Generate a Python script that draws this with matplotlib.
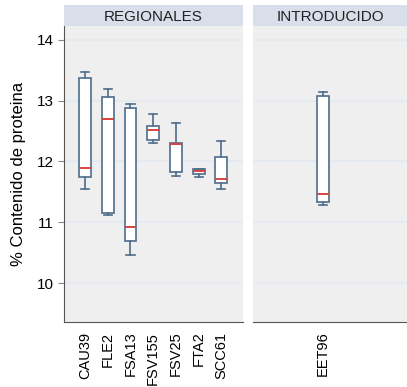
import matplotlib.pyplot as plt

plt.rcParams['font.family'] = ['Liberation Sans', 'DejaVu Sans']

# protein content per cultivar (%)
regional = ['CAU39', 'FLE2', 'FSA13', 'FSV155', 'FSV25', 'FTA2', 'SCC61']
reg_whislo = [11.54, 11.12, 10.47, 12.31, 11.76, 11.75, 11.55]
reg_q1 = [11.74, 11.16, 10.70, 12.36, 11.82, 11.80, 11.64]
reg_med = [11.90, 12.70, 10.92, 12.52, 12.28, 11.84, 11.72]
reg_q3 = [13.37, 13.06, 12.88, 12.59, 12.31, 11.87, 12.08]
reg_whishi = [13.48, 13.20, 12.95, 12.78, 12.63, 11.88, 12.33]

introduced = ['EET96']
int_whislo = [11.28]
int_q1 = [11.33]
int_med = [11.47]
int_q3 = [13.08]
int_whishi = [13.14]

edge = '#4f6d8c'
panel_bg = '#efefef'
strip_bg = '#d9dfea'
spine_c = '#555555'


def stats(labels, lo, q1, med, q3, hi):
    return [dict(label=l, whislo=a, q1=b, med=c, q3=d, whishi=e, fliers=[])
            for l, a, b, c, d, e in zip(labels, lo, q1, med, q3, hi)]


def draw(ax, st):
    ax.set_facecolor(panel_bg)
    ax.bxp(st, positions=range(1, len(st) + 1), widths=0.52, patch_artist=True,
           boxprops=dict(facecolor='white', edgecolor=edge, linewidth=1.2),
           whiskerprops=dict(color=edge, linewidth=1.2),
           capprops=dict(color=edge, linewidth=1.2),
           medianprops=dict(color='#d64541', linewidth=1.4),
           capwidths=0.36, zorder=3)
    ax.set_ylim(9.36, 14.23)
    ax.set_yticks([10, 11, 12, 13, 14])
    ax.grid(axis='y', color='#e4e9f1', linewidth=1.2, zorder=0)
    ax.set_axisbelow(True)
    for s in ['top', 'right', 'left']:
        ax.spines[s].set_visible(False)
    ax.spines['bottom'].set_color(spine_c)
    ax.tick_params(axis='x', length=0, pad=7, labelsize=10.5, labelrotation=90)


def strip(rect, text):
    sa = fig.add_axes(rect)
    sa.set_facecolor(strip_bg)
    sa.set_xticks([])
    sa.set_yticks([])
    for s in sa.spines.values():
        s.set_visible(False)
    sa.text(0.5, 0.45, text, ha='center', va='center', fontsize=11,
            color='#222222', transform=sa.transAxes)


fig = plt.figure(figsize=(4.07, 3.87), dpi=100)

ax1 = fig.add_axes([0.157, 0.168, 0.440, 0.765])
draw(ax1, stats(regional, reg_whislo, reg_q1, reg_med, reg_q3, reg_whishi))
ax1.set_xlim(0.07, 7.95)
ax1.spines['left'].set_visible(True)
ax1.spines['left'].set_color(spine_c)
ax1.tick_params(axis='y', length=4, color='#888888', labelsize=11, pad=3)
ax1.set_ylabel('% Contenido de proteina', fontsize=12, labelpad=8)

ax2 = fig.add_axes([0.622, 0.168, 0.378, 0.765])
draw(ax2, stats(introduced, int_whislo, int_q1, int_med, int_q3, int_whishi))
ax2.set_xlim(1 - 3.08, 1 + 3.70)
ax2.tick_params(axis='y', left=False, labelleft=False)

strip([0.157, 0.933, 0.440, 0.054], 'REGIONALES')
strip([0.622, 0.933, 0.378, 0.054], 'INTRODUCIDO')

fig.savefig('out.png', dpi=100, facecolor='white')
